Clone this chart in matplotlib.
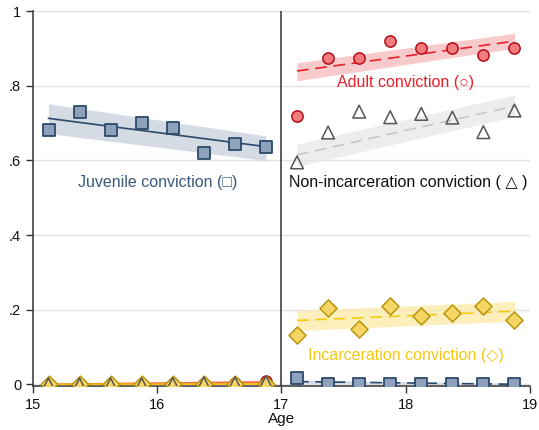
import numpy as np
import matplotlib
matplotlib.use("Agg")
import matplotlib.pyplot as plt

plt.rcParams['font.family'] = ['Liberation Sans', 'DejaVu Sans']

# Age bins (quarter-year centres) on each side of the age-17 cutoff
age_pre = [15.125, 15.375, 15.625, 15.875, 16.125, 16.375, 16.625, 16.875]
age_post = [17.125, 17.375, 17.625, 17.875, 18.125, 18.375, 18.625, 18.875]

# Binned shares
juvenile_pre = [0.681, 0.730, 0.681, 0.701, 0.688, 0.620, 0.645, 0.637]
juvenile_post = [0.016, 0.002, 0.002, 0.002, 0.002, 0.002, 0.002, 0.002]
adult_pre = [0.0, 0.0, 0.0, 0.0, 0.001, 0.002, 0.004, 0.008]
adult_post = [0.720, 0.874, 0.874, 0.921, 0.901, 0.901, 0.882, 0.901]
nonincar_pre = [0.0, 0.0, 0.0, 0.0, 0.001, 0.003, 0.003, 0.006]
nonincar_post = [0.595, 0.675, 0.731, 0.716, 0.725, 0.715, 0.676, 0.734]
incar_pre = [0.0, 0.0, 0.0, 0.0, 0.0, 0.0, 0.0, 0.0]
incar_post = [0.131, 0.205, 0.148, 0.209, 0.182, 0.191, 0.209, 0.171]

# Linear fits: value at first and last bin, with 95% CI bounds (lower, upper)
juvenile_pre_fit = [0.713, 0.637]
juvenile_pre_ci = [(0.672, 0.752), (0.600, 0.666)]
juvenile_post_fit = [0.007, 0.000]
juvenile_post_ci = [(0.003, 0.011), (-0.002, 0.003)]
adult_pre_fit = [0.000, 0.006]
adult_pre_ci = [(-0.002, 0.002), (0.001, 0.011)]
adult_post_fit = [0.840, 0.920]
adult_post_ci = [(0.814, 0.862), (0.901, 0.941)]
nonincar_post_fit = [0.615, 0.746]
nonincar_post_ci = [(0.584, 0.644), (0.718, 0.776)]
incar_pre_fit = [0.000, 0.001]
incar_pre_ci = [(-0.001, 0.001), (-0.001, 0.003)]
incar_post_fit = [0.171, 0.196]
incar_post_ci = [(0.144, 0.198), (0.169, 0.222)]

NAVY = '#2c4a6b'
NAVY_FILL = '#8ea2bb'
NAVY_BAND = '#c6d0dc'
RED = '#e8202a'
RED_EDGE = '#b5101a'
RED_FILL = '#f27b80'
RED_BAND = '#f8b9bb'
GRAY_LINE = '#c8c8c8'
GRAY_BAND = '#e8e8e8'
GRAY_EDGE = '#555555'
GOLD = '#f4c913'
GOLD_EDGE = '#b8960c'
GOLD_FILL = '#f5d565'
GOLD_BAND = '#fbeaa6'

fig = plt.figure(figsize=(5.39, 4.30), dpi=100)
ax = fig.add_axes([0.0612, 0.1012, 0.9221, 0.8725])


def fit(xs, vals, ci, color, band, ls, z):
    xe = [xs[0], xs[-1]]
    lo = [ci[0][0], ci[1][0]]
    hi = [ci[0][1], ci[1][1]]
    ax.fill_between(xe, lo, hi, color=band, alpha=0.75, lw=0, zorder=z)
    if ls == 'solid':
        ax.plot(xe, vals, color=color, lw=1.2, zorder=z + 0.5)
    else:
        ax.plot(xe, vals, color=color, lw=1.2, dashes=(7, 4), zorder=z + 0.5)


# Confidence bands and fit lines
fit(age_post, nonincar_post_fit, nonincar_post_ci, GRAY_LINE, GRAY_BAND, 'dash', 2)
fit(age_post, adult_post_fit, adult_post_ci, RED, RED_BAND, 'dash', 2)
fit(age_post, incar_post_fit, incar_post_ci, GOLD, GOLD_BAND, 'dash', 2)
fit(age_post, juvenile_post_fit, juvenile_post_ci, NAVY, NAVY_BAND, 'dash', 2)
fit(age_pre, juvenile_pre_fit, juvenile_pre_ci, NAVY, NAVY_BAND, 'solid', 2)
fit(age_pre, adult_pre_fit, adult_pre_ci, '#f07050', RED_BAND, 'solid', 2)
fit(age_pre, incar_pre_fit, incar_pre_ci, '#f7b800', GOLD_BAND, 'solid', 2.6)

# Binned scatter markers
ax.scatter(age_pre, adult_pre, s=62, marker='o', facecolor=RED_FILL,
           edgecolor=RED_EDGE, linewidth=1.1, zorder=4)
ax.scatter(age_post, adult_post, s=66, marker='o', facecolor=RED_FILL,
           edgecolor=RED_EDGE, linewidth=1.1, zorder=4)
ax.scatter(age_pre, incar_pre, s=72, marker='D', facecolor=GOLD_FILL,
           edgecolor=GOLD_EDGE, linewidth=1.1, zorder=4)
ax.scatter(age_post, incar_post, s=76, marker='D', facecolor=GOLD_FILL,
           edgecolor=GOLD_EDGE, linewidth=1.1, zorder=4)
ax.scatter(age_pre, nonincar_pre, s=80, marker='^', facecolor='none',
           edgecolor=GRAY_EDGE, linewidth=1.1, zorder=4.5)
ax.scatter(age_post, nonincar_post, s=84, marker='^', facecolor='none',
           edgecolor=GRAY_EDGE, linewidth=1.1, zorder=4.5)
ax.scatter(age_pre, juvenile_pre, s=70, marker='s', facecolor=NAVY_FILL,
           edgecolor=NAVY, linewidth=1.3, zorder=5)
ax.scatter(age_post, juvenile_post, s=70, marker='s', facecolor=NAVY_FILL,
           edgecolor=NAVY, linewidth=1.3, zorder=5)

# Cutoff at age 17
ax.axvline(17, color='#333333', lw=1.1, zorder=3)

# Series labels
lab_kw = dict(ha='center', va='center', fontsize=11.5,
              family=['Liberation Sans', 'DejaVu Sans'])
ax.text(16.0, 0.540, 'Juvenile conviction (□)', color='#3a5a7c', **lab_kw)
ax.text(18.0, 0.810, 'Adult conviction (○)', color=RED, **lab_kw)
ax.text(18.02, 0.540, 'Non-incarceration conviction ( △ )', color='#111111', **lab_kw)
ax.text(18.0, 0.078, 'Incarceration conviction (◇)', color=GOLD, **lab_kw)

# Axes styling
ax.set_xlim(15, 19)
ax.set_ylim(-0.006, 1.0)
ax.set_xticks([15, 16, 17, 18, 19])
ax.set_xticklabels(['15', '16', '17', '18', '19'])
ax.set_yticks([0, 0.2, 0.4, 0.6, 0.8, 1.0])
ax.set_yticklabels(['0', '.2', '.4', '.6', '.8', '1'])
ax.tick_params(axis='both', labelsize=10.5, length=5, width=1, color='#333333',
               labelcolor='#111111')
ax.set_xlabel('Age', fontsize=11, labelpad=0, color='#111111')
ax.grid(axis='y', color='#e2e2e2', lw=1)
ax.set_axisbelow(True)
for side in ('top', 'right'):
    ax.spines[side].set_visible(False)
for side in ('left', 'bottom'):
    ax.spines[side].set_color('#333333')
    ax.spines[side].set_linewidth(1.1)

fig.savefig('out.png', dpi=100)
